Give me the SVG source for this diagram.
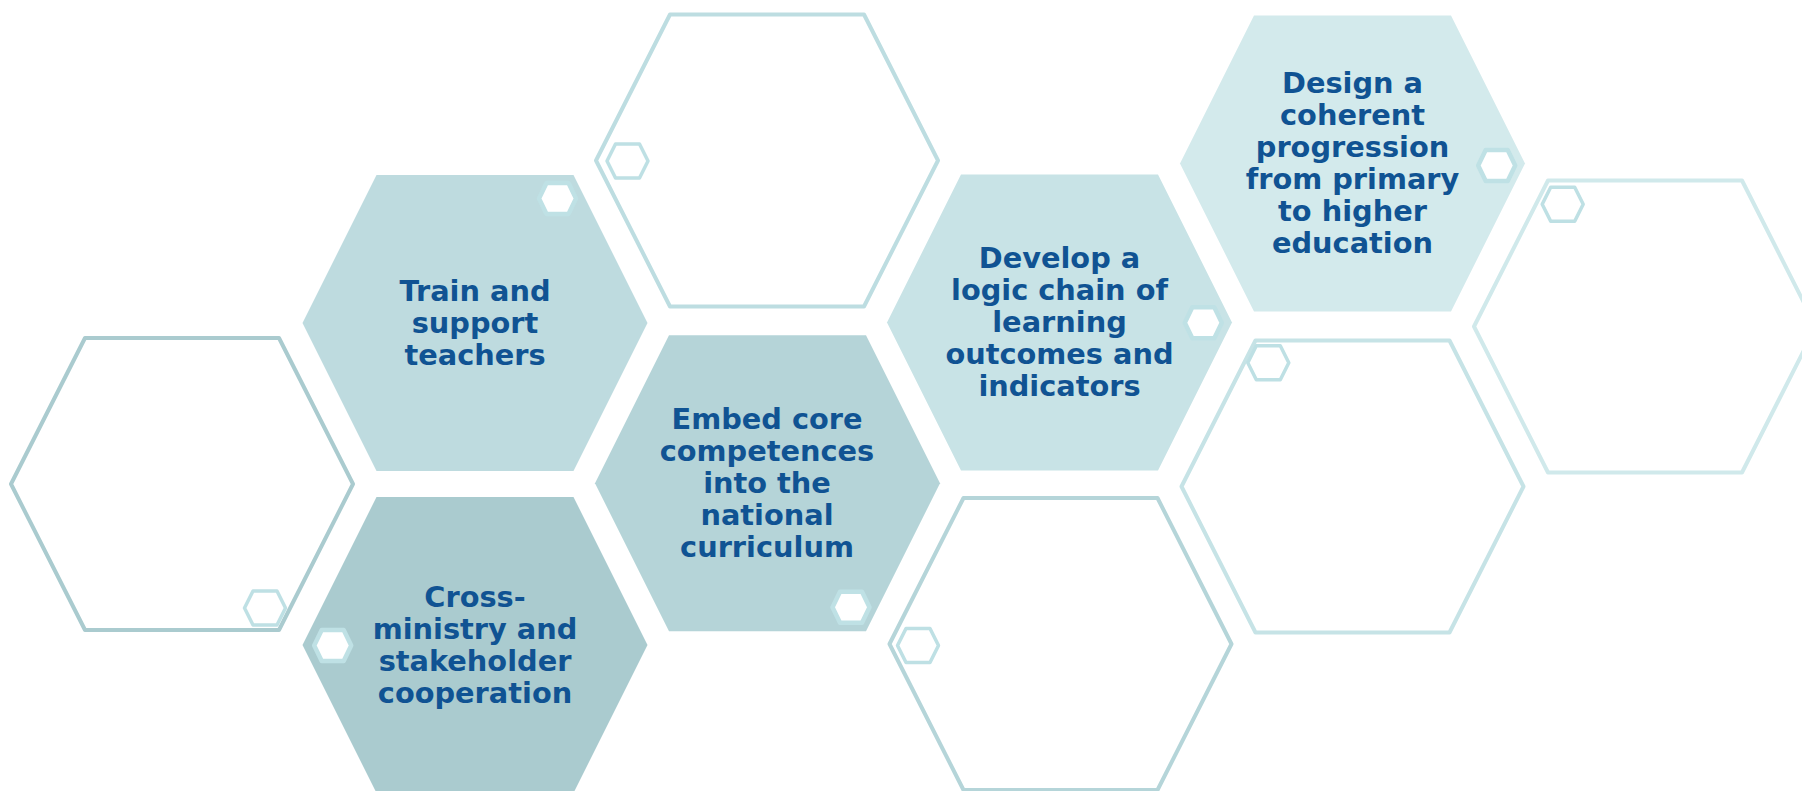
<svg xmlns="http://www.w3.org/2000/svg" xmlns:xlink="http://www.w3.org/1999/xlink" width="1802" height="791" viewBox="0 0 1802 791">
<defs>
<style>
.lbl{font-family:"DejaVu Sans","Verdana",sans-serif;font-weight:bold;font-size:28.8px;fill:#105393;text-anchor:middle}
.ol{fill:none;stroke-width:4;stroke-linejoin:round}
.so{fill:none;stroke:#BEE0E4;stroke-width:3.5;stroke-linejoin:round}
.sf{fill:#FFFFFF;stroke:#BFE1E5;stroke-width:4.5;stroke-linejoin:round}
</style>
<polygon id="hexf" points="-172.5,0 -98.5,-148 98.5,-148 172.5,0 98.5,148 -98.5,148"/>
<polygon id="hexo" points="-171,0 -97,-146 97,-146 171,0 97,146 -97,146"/>
<polygon id="shexo" points="-20.5,0 -12,-17 12,-17 20.5,0 12,17 -12,17"/>
<polygon id="shexf" points="-18.5,0 -11,-15.5 11,-15.5 18.5,0 11,15.5 -11,15.5"/>
</defs>
<rect width="1802" height="791" fill="#FFFFFF"/>

<g id="outline-left">
<use xlink:href="#hexo" href="#hexo" transform="translate(182,484)" class="ol" stroke="#AACBCF"/>
<use xlink:href="#shexo" href="#shexo" transform="translate(265,608)" class="so"/>
</g>

<g id="outline-top">
<use xlink:href="#hexo" href="#hexo" transform="translate(767,160.5)" class="ol" stroke="#BDDDE1"/>
<use xlink:href="#shexo" href="#shexo" transform="translate(627.5,161)" class="so"/>
</g>

<g id="outline-bottom">
<use xlink:href="#hexo" href="#hexo" transform="translate(1060.5,644)" class="ol" stroke="#B5D5D9"/>
<use xlink:href="#shexo" href="#shexo" transform="translate(918,645.5)" class="so"/>
</g>

<g id="outline-mid-right">
<use xlink:href="#hexo" href="#hexo" transform="translate(1352.5,486.5)" class="ol" stroke="#C6E3E6"/>
<use xlink:href="#shexo" href="#shexo" transform="translate(1268.3,362.7)" class="so"/>
</g>

<g id="outline-far-right">
<use xlink:href="#hexo" href="#hexo" transform="translate(1645,326.5)" class="ol" stroke="#D0E9EB"/>
<use xlink:href="#shexo" href="#shexo" transform="translate(1562.7,204.3)" class="so"/>
</g>

<g id="node-train">
<use xlink:href="#hexf" href="#hexf" transform="translate(475,323)" fill="#BEDBDF"/>
<use xlink:href="#shexf" href="#shexf" transform="translate(557.5,198.5)" class="sf"/>
<text class="lbl" x="475" y="300.7">Train and</text>
<text class="lbl" x="475" y="332.7">support</text>
<text class="lbl" x="475" y="364.7">teachers</text>
</g>

<g id="node-cross">
<use xlink:href="#hexf" href="#hexf" transform="translate(475,645)" fill="#AACBCF"/>
<use xlink:href="#shexf" href="#shexf" transform="translate(332.7,645.5)" class="sf"/>
<text class="lbl" x="475" y="606.7">Cross-</text>
<text class="lbl" x="475" y="638.7">ministry and</text>
<text class="lbl" x="475" y="670.7">stakeholder</text>
<text class="lbl" x="475" y="702.7">cooperation</text>
</g>

<g id="node-embed">
<use xlink:href="#hexf" href="#hexf" transform="translate(767.5,483.3)" fill="#B5D4D8"/>
<use xlink:href="#shexf" href="#shexf" transform="translate(851,607.3)" class="sf"/>
<text class="lbl" x="767" y="429.3">Embed core</text>
<text class="lbl" x="767" y="461.3">competences</text>
<text class="lbl" x="767" y="493.3">into the</text>
<text class="lbl" x="767" y="525.3">national</text>
<text class="lbl" x="767" y="557.3">curriculum</text>
</g>

<g id="node-develop">
<use xlink:href="#hexf" href="#hexf" transform="translate(1059.5,322.5)" fill="#C8E3E6"/>
<use xlink:href="#shexf" href="#shexf" transform="translate(1203.3,322.7)" class="sf"/>
<text class="lbl" x="1059.5" y="267.5">Develop a</text>
<text class="lbl" x="1059.5" y="299.5">logic chain of</text>
<text class="lbl" x="1059.5" y="331.5">learning</text>
<text class="lbl" x="1059.5" y="363.5">outcomes and</text>
<text class="lbl" x="1059.5" y="395.5">indicators</text>
</g>

<g id="node-design">
<use xlink:href="#hexf" href="#hexf" transform="translate(1352.5,163.5)" fill="#D3EAEC"/>
<use xlink:href="#shexf" href="#shexf" transform="translate(1496.7,165.5)" class="sf"/>
<text class="lbl" x="1352.5" y="93.3">Design a</text>
<text class="lbl" x="1352.5" y="125.3">coherent</text>
<text class="lbl" x="1352.5" y="157.3">progression</text>
<text class="lbl" x="1352.5" y="189.3">from primary</text>
<text class="lbl" x="1352.5" y="221.3">to higher</text>
<text class="lbl" x="1352.5" y="253.3">education</text>
</g>

<g id="connectors"></g>
</svg>
